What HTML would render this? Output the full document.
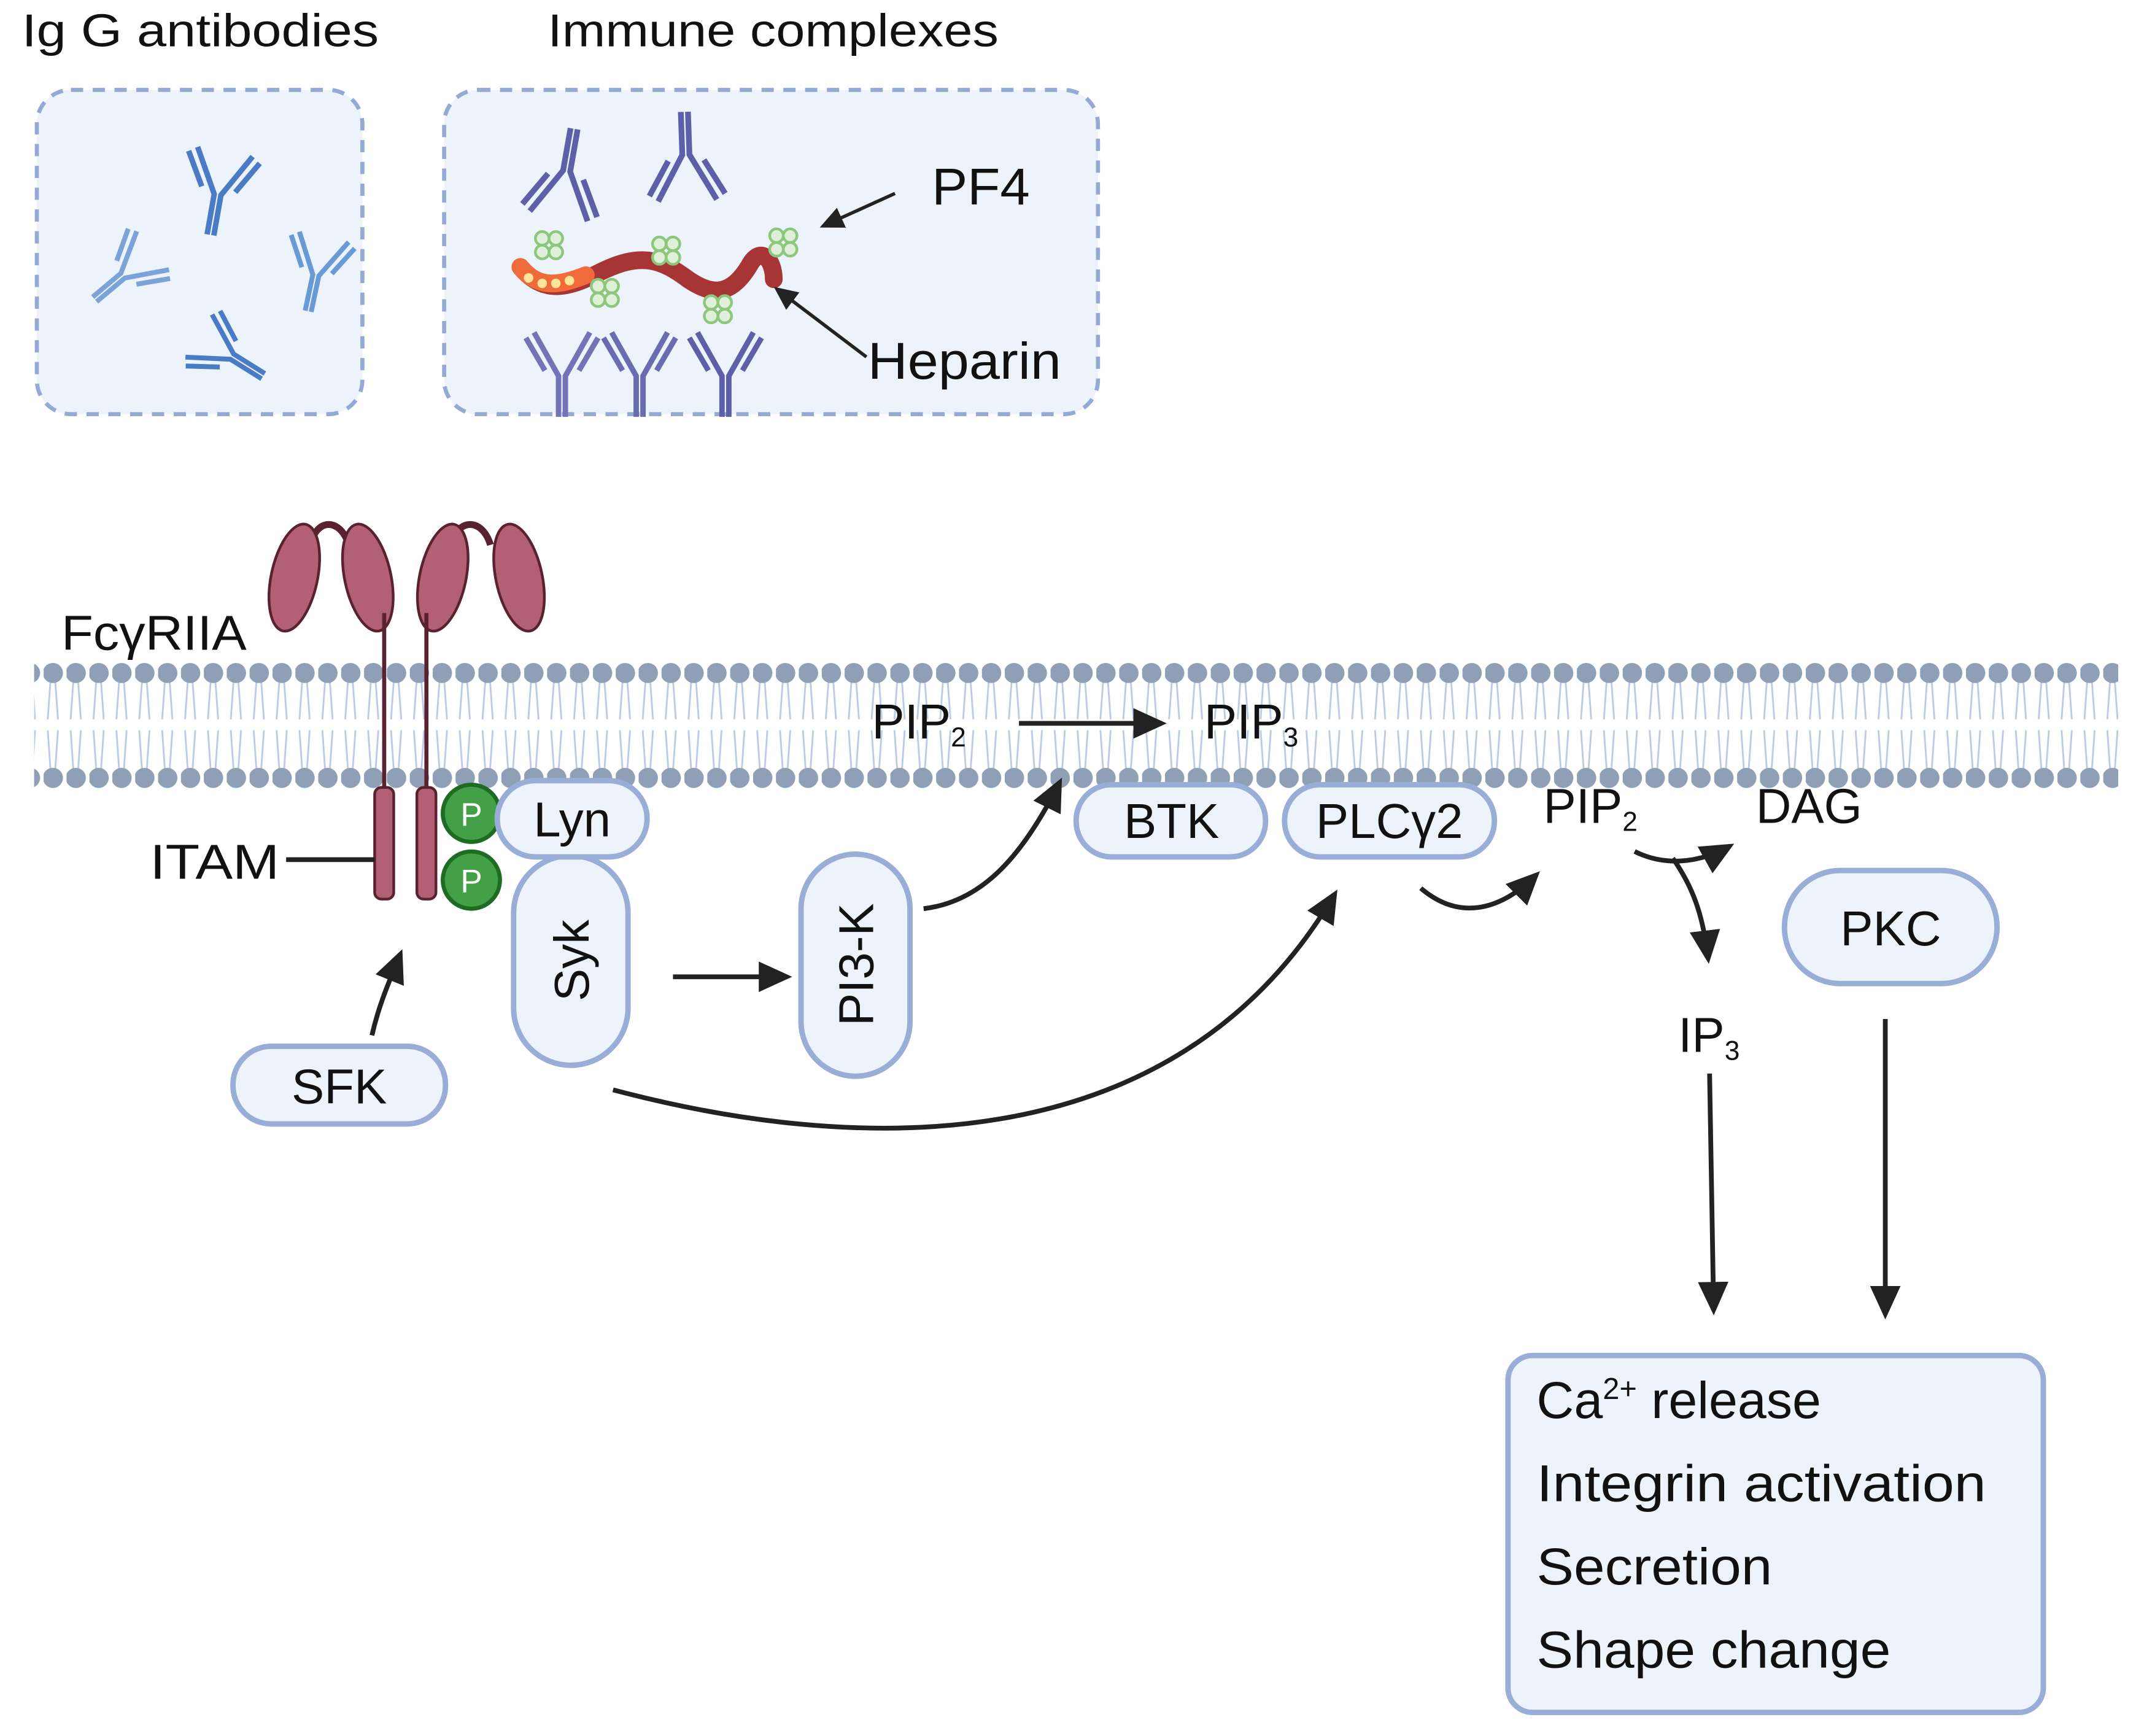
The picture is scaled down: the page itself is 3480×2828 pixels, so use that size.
<!DOCTYPE html>
<html><head><meta charset="utf-8"><style>html,body{margin:0;padding:0;background:#fff}svg{display:block}text{font-family:"Liberation Sans","DejaVu Sans",sans-serif;fill:#111}</style></head><body>
<svg width="3480" height="2828" viewBox="0 0 1568 1274.3" xmlns="http://www.w3.org/2000/svg">
<defs>
<marker id="ah" markerWidth="8" markerHeight="8" refX="6" refY="4" orient="auto" markerUnits="strokeWidth"><path d="M0,0.8 L7,4 L0,7.2 Z" fill="#222"/></marker>
<pattern id="lip" x="32" y="0" width="16.8" height="1274" patternUnits="userSpaceOnUse">
<path d="M5,500 L3,528 M8.5,500 L10.5,528 M3,536 L5,565 M10.5,536 L8.5,565" stroke="#bccbe4" stroke-width="1.3" fill="none"/>
<circle cx="6.8" cy="494" r="7.4" fill="#8f9fb5"/>
<circle cx="6.8" cy="571" r="7.4" fill="#8f9fb5"/>
</pattern>
<g id="ab">
<path d="M0,0 L0,-30 L-18,-62 M5,0 L5,-30 L23,-62" stroke="currentColor" stroke-width="4" fill="none"/>
<path d="M-10,-34 L-24,-58 M15,-34 L29,-58" stroke="currentColor" stroke-width="4" fill="none"/>
</g>
</defs>
<text x="16" y="34" font-size="34" textLength="262" lengthAdjust="spacingAndGlyphs">Ig G  antibodies</text>
<text x="402" y="34" font-size="34" textLength="331" lengthAdjust="spacingAndGlyphs">Immune complexes</text>
<rect x="27" y="66" width="239" height="238" rx="25" fill="#edf3fb" stroke="#94a9d4" stroke-width="3" stroke-dasharray="9,7"/>
<rect x="326" y="66" width="480" height="238" rx="25" fill="#edf3fb" stroke="#94a9d4" stroke-width="3" stroke-dasharray="9,7"/>
<g color="#5b8fcf">
<use href="#ab" transform="translate(152,172) rotate(10)" color="#4a7cc6"/>
<use href="#ab" transform="translate(68,218) rotate(50) scale(0.9)" color="#7ba3d8"/>
<use href="#ab" transform="translate(224,228) rotate(12) scale(0.9)" color="#6a9ad6"/>
<use href="#ab" transform="translate(192,278) rotate(-58) scale(0.9)" color="#4a7cc6"/>
</g>
<g color="#5d5fa8">
<use href="#ab" transform="translate(424,95) rotate(190) scale(1.05)"/>
<use href="#ab" transform="translate(505,82) rotate(178) scale(1.05)"/>
<use href="#ab" transform="translate(410,306)" color="#7274b5"/>
<use href="#ab" transform="translate(467,306)" color="#6a6cb2"/>
<use href="#ab" transform="translate(530,306)"/>
</g>
<path d="M382,196 C400,218 420,210 440,200 C470,185 485,190 505,205 C520,215 535,220 550,195 C558,180 568,190 568,205" stroke="#a83535" stroke-width="13" fill="none" stroke-linecap="round"/>
<path d="M382,196 C395,212 410,210 430,202" stroke="#f06a3a" stroke-width="13" fill="none" stroke-linecap="round"/>
<g fill="#ffe59a"><circle cx="388" cy="204" r="3.5"/><circle cx="398" cy="208" r="3.5"/><circle cx="408" cy="208" r="3.5"/><circle cx="418" cy="206" r="3.5"/></g>
<g fill="#dff0d8" stroke="#8cc77d" stroke-width="2">
<g transform="translate(403,180)"><circle cx="-5" cy="-5" r="5"/><circle cx="5" cy="-5" r="5"/><circle cx="-5" cy="5" r="5"/><circle cx="5" cy="5" r="5"/></g>
<g transform="translate(444,215)"><circle cx="-5" cy="-5" r="5"/><circle cx="5" cy="-5" r="5"/><circle cx="-5" cy="5" r="5"/><circle cx="5" cy="5" r="5"/></g>
<g transform="translate(489,184)"><circle cx="-5" cy="-5" r="5"/><circle cx="5" cy="-5" r="5"/><circle cx="-5" cy="5" r="5"/><circle cx="5" cy="5" r="5"/></g>
<g transform="translate(527,227)"><circle cx="-5" cy="-5" r="5"/><circle cx="5" cy="-5" r="5"/><circle cx="-5" cy="5" r="5"/><circle cx="5" cy="5" r="5"/></g>
<g transform="translate(575,178)"><circle cx="-5" cy="-5" r="5"/><circle cx="5" cy="-5" r="5"/><circle cx="-5" cy="5" r="5"/><circle cx="5" cy="5" r="5"/></g>
</g>
<text x="684" y="150" font-size="38" textLength="72" lengthAdjust="spacingAndGlyphs">PF4</text>
<text x="637" y="278" font-size="38" textLength="142" lengthAdjust="spacingAndGlyphs">Heparin</text>
<line x1="657" y1="142" x2="604" y2="166" stroke="#222" stroke-width="2.5" marker-end="url(#ah)"/>
<line x1="636" y1="262" x2="570" y2="212" stroke="#222" stroke-width="2.5" marker-end="url(#ah)"/>
<rect x="25" y="480" width="1530" height="100" fill="url(#lip)"/>
<g fill="#b36076" stroke="#5a2230" stroke-width="2">
<path d="M228,400 C232,380 250,380 256,400 M331,400 C336,380 354,380 360,400" fill="none" stroke-width="5"/>
<ellipse cx="216" cy="424" rx="17" ry="40" transform="rotate(12 216 424)"/>
<ellipse cx="270" cy="424" rx="17" ry="40" transform="rotate(-12 270 424)"/>
<ellipse cx="325" cy="424" rx="17" ry="40" transform="rotate(12 325 424)"/>
<ellipse cx="381" cy="424" rx="17" ry="40" transform="rotate(-12 381 424)"/>
<line x1="282" y1="450" x2="282" y2="580" stroke-width="3"/>
<line x1="313" y1="450" x2="313" y2="580" stroke-width="3"/>
<rect x="275" y="578" width="14" height="82" rx="5"/>
<rect x="306" y="578" width="14" height="82" rx="5"/>
</g>
<text x="45" y="477" font-size="36" textLength="136" lengthAdjust="spacingAndGlyphs">FcγRIIA</text>
<text x="110" y="645" font-size="36" textLength="95" lengthAdjust="spacingAndGlyphs">ITAM</text>
<line x1="210" y1="631" x2="275" y2="631" stroke="#222" stroke-width="3.5"/>
<g stroke="#1e6b22" stroke-width="3" fill="#43a047"><circle cx="346" cy="597" r="21"/><circle cx="346" cy="646" r="21"/></g>
<text x="346" y="606" font-size="24" text-anchor="middle" style="fill:#fff">P</text>
<text x="346" y="655" font-size="24" text-anchor="middle" style="fill:#fff">P</text>
<g fill="#edf3fb" stroke="#98aed6" stroke-width="4">
<rect x="377" y="628" width="84" height="154" rx="42"/>
<rect x="365" y="573" width="110" height="56" rx="28"/>
<rect x="171" y="768" width="156" height="57" rx="28"/>
<rect x="588" y="627" width="80" height="163" rx="40"/>
<rect x="790" y="576" width="139" height="53" rx="26"/>
<rect x="943" y="576" width="154" height="53" rx="26"/>
<rect x="1310" y="639" width="156" height="83" rx="41"/>
<rect x="1107" y="995" width="393" height="262" rx="18"/>
</g>
<text x="420" y="614" font-size="36" text-anchor="middle">Lyn</text>
<text x="249" y="810" font-size="36" text-anchor="middle">SFK</text>
<text transform="translate(432,705) rotate(-90)" font-size="36" text-anchor="middle">Syk</text>
<text transform="translate(641,708) rotate(-90)" font-size="36" text-anchor="middle">PI3-K</text>
<text x="860" y="615" font-size="36" text-anchor="middle">BTK</text>
<text x="1020" y="615" font-size="36" text-anchor="middle">PLCγ2</text>
<text x="1388" y="694" font-size="36" text-anchor="middle">PKC</text>
<text x="640" y="542" font-size="36">PIP<tspan font-size="20" dy="6">2</tspan></text>
<text x="884" y="542" font-size="36">PIP<tspan font-size="20" dy="6">3</tspan></text>
<text x="1133" y="604" font-size="36">PIP<tspan font-size="20" dy="6">2</tspan></text>
<text x="1289" y="604" font-size="36">DAG</text>
<text x="1232" y="772" font-size="36">IP<tspan font-size="20" dy="6">3</tspan></text>
<g stroke="#222" stroke-width="3.5" fill="none" marker-end="url(#ah)">
<path d="M273,760 C278,738 285,722 294,700"/>
<line x1="494" y1="717" x2="578" y2="717"/>
<path d="M678,667 C720,662 750,630 778,574"/>
<line x1="748" y1="531" x2="853" y2="531"/>
<path d="M450,800 C620,845 860,860 980,656"/>
<path d="M1043,652 C1070,675 1100,670 1128,642"/>
<path d="M1200,625 C1220,635 1245,635 1270,621"/>
<path d="M1228,630 C1242,650 1250,670 1254,704"/>
<line x1="1255" y1="788" x2="1258" y2="962"/>
<line x1="1384" y1="748" x2="1384" y2="965"/>
</g>
<g font-size="38">
<text x="1128" y="1041">Ca<tspan font-size="22" dy="-14">2+</tspan><tspan dy="14"> release</tspan></text>
<text x="1128" y="1102" textLength="330" lengthAdjust="spacingAndGlyphs">Integrin activation</text>
<text x="1128" y="1163" textLength="173" lengthAdjust="spacingAndGlyphs">Secretion</text>
<text x="1128" y="1224" textLength="260" lengthAdjust="spacingAndGlyphs">Shape change</text>
</g>
</svg>
</body></html>
